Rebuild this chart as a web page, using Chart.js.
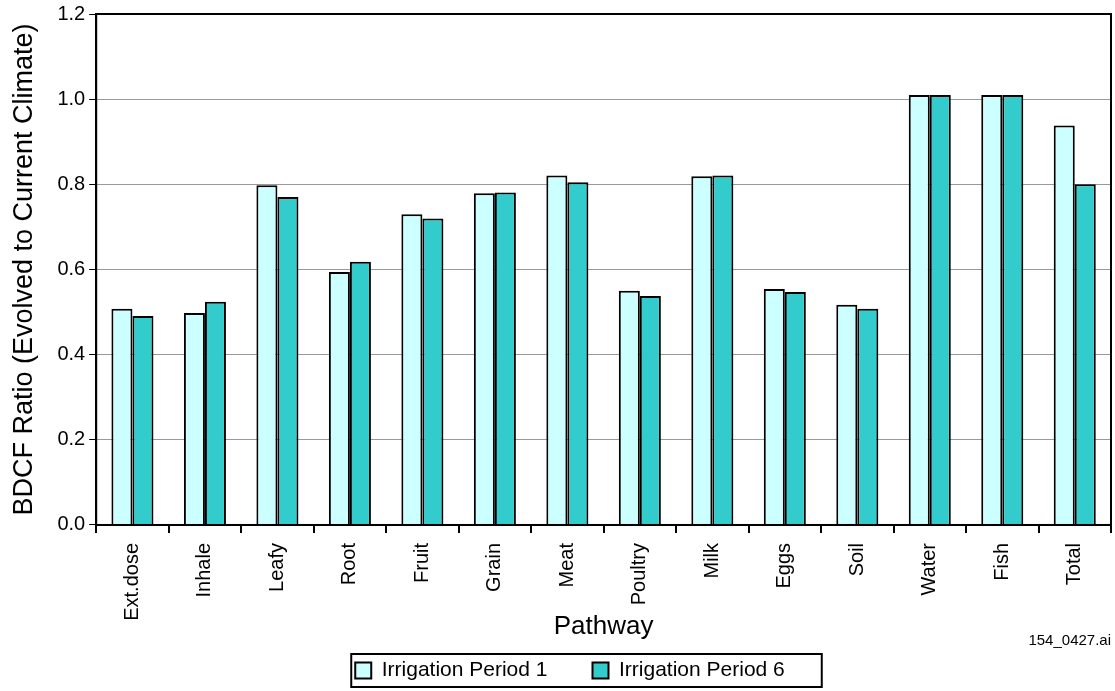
<!DOCTYPE html>
<html>
<head>
<meta charset="utf-8">
<script src="https://cdn.jsdelivr.net/npm/chart.js@4/dist/chart.umd.min.js"></script>
<style>
  html, body { margin: 0; padding: 0; background: #fff; }
  #wrap { width: 1115px; height: 691px; }
</style>
</head>
<body>
<div id="wrap"><canvas id="myChart"></canvas></div>
<script>
// define data
const pathways = ["Ext.dose", "Inhale", "Leafy", "Root", "Fruit", "Grain", "Meat",
  "Poultry", "Milk", "Eggs", "Soil", "Water", "Fish", "Total"];
const period1 = [0.508, 0.498, 0.798, 0.594, 0.730, 0.779, 0.821, 0.550, 0.819, 0.554, 0.517, 1.01, 1.01, 0.938];
const period6 = [0.491, 0.524, 0.770, 0.618, 0.720, 0.781, 0.805, 0.538, 0.821, 0.547, 0.508, 1.01, 1.01, 0.800];
const yTicks = [0, 0.2, 0.4, 0.6, 0.8, 1.0, 1.2];

const FONT = "'Liberation Sans', Arial, sans-serif";
const COLOR_P1 = "#ccffff";
const COLOR_P6 = "#33cccc";
const LEGEND_SHIFT = 28;   // legend sits a bit right of the canvas centre

// frame round the plot, box round the legend, file tag
const extras = {
  id: 'extras',
  afterLayout(chart) {
    chart.legend.left += LEGEND_SHIFT;
    chart.legend.right += LEGEND_SHIFT;
  },
  afterDraw(chart) {
    const ctx = chart.ctx;
    const a = chart.chartArea;
    ctx.save();
    ctx.strokeStyle = '#000';
    ctx.lineWidth = 2;
    ctx.strokeRect(a.left, a.top, a.right - a.left, a.bottom - a.top);

    // legend frame
    const boxes = chart.legend.legendHitBoxes;
    if (boxes && boxes.length) {
      let l = Infinity, t = Infinity, r = -Infinity, b = -Infinity;
      boxes.forEach(h => {
        l = Math.min(l, h.left); t = Math.min(t, h.top);
        r = Math.max(r, h.left + h.width); b = Math.max(b, h.top + h.height);
      });
      ctx.strokeRect(l - 4, t - 6, r - l + 6, b - t + 12);
    }

    ctx.fillStyle = '#000';
    ctx.font = "15px " + FONT;
    ctx.textAlign = 'right';
    ctx.textBaseline = 'alphabetic';
    ctx.fillText("154_0427.ai", a.right, 645);
    ctx.restore();
  }
};

const ctx = document.getElementById("myChart").getContext("2d");
new Chart(ctx, {
  type: 'bar',
  data: {
    labels: pathways,
    datasets: [
      {
        label: "Irrigation Period 1",
        data: period1,
        backgroundColor: COLOR_P1,
        borderColor: '#000',
        borderWidth: 2,
      },
      {
        label: "Irrigation Period 6",
        data: period6,
        backgroundColor: COLOR_P6,
        borderColor: '#000',
        borderWidth: 2,
      },
    ]
  },
  options: {
    responsive: true,
    maintainAspectRatio: false,
    animation: false,
    layout: { padding: { left: 8, right: 4, top: 6, bottom: 0 } },
    datasets: {
      bar: { categoryPercentage: 0.58, barPercentage: 1.0 }
    },
    scales: {
      x: {
        grid: {
          offset: true,
          drawOnChartArea: false,
          color: '#000',
          tickLength: 8,
          lineWidth: 2,
        },
        border: { display: true, color: '#000', width: 2 },
        ticks: {
          color: '#000',
          font: { family: FONT, size: 20 },
          maxRotation: 90,
          minRotation: 90,
          padding: 10,
        },
        title: {
          display: true,
          text: "Pathway",
          color: '#000',
          font: { family: FONT, size: 26 },
          padding: { top: -20, bottom: 8 },
        },
      },
      y: {
        min: 0,
        max: 1.2,
        afterBuildTicks: (axis) => {
          axis.ticks = yTicks.map(v => ({ value: v }));
        },
        grid: {
          color: '#999',
          lineWidth: 1,
          tickColor: '#000',
          tickLength: 7,
        },
        border: { display: true, color: '#000', width: 2 },
        ticks: {
          color: '#000',
          font: { family: FONT, size: 20, lineHeight: 1 },
          padding: 4,
          callback: (val) => Number(val).toFixed(1),
        },
        title: {
          display: true,
          text: "BDCF Ratio (Evolved to Current Climate)",
          color: '#000',
          font: { family: FONT, size: 27 },
          padding: { top: 0, bottom: 13 },
        },
      },
    },
    plugins: {
      legend: {
        position: 'bottom',
        labels: {
          color: '#000',
          font: { family: FONT, size: 21 },
          boxWidth: 16,
          boxHeight: 16,
          padding: 10,
          generateLabels: (chart) => {
            const items = Chart.defaults.plugins.legend.labels.generateLabels(chart);
            // trailing gap after each entry, as in the original key
            items.forEach(it => { it.text = it.text + '      '; });
            return items;
          },
        },
      },
      tooltip: { enabled: false },
    },
  },
  plugins: [extras],
});
</script>
</body>
</html>
